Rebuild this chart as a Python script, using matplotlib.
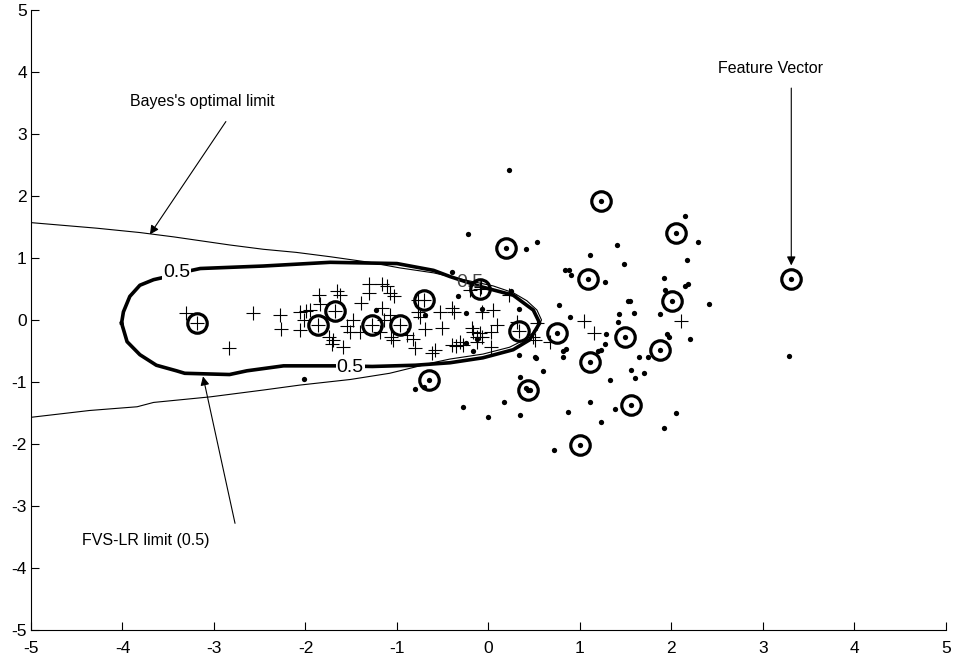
import numpy as np
import matplotlib.pyplot as plt

plt.rcParams['font.family'] = ['Liberation Sans', 'DejaVu Sans']
plt.rcParams['axes.unicode_minus'] = False

# class 1 samples (+)
plus_x = [-3.31, -3.19, -2.57, -2.28, -2.27, -2.06, -2.06, -1.95, -2.84, -1.85,
          -1.31, -1.31, -1.16, -1.11, -1.08, -1.03, -1.66, -1.62, -1.84, -1.99,
          -2.02, -1.39, -1.48, -1.55, -1.74, -1.70, -1.71, -1.59, -1.51, -1.40,
          -1.16, -1.14, -1.08, -1.19, -1.06, -1.04, -0.89, -0.82, -0.80, -0.77,
          -0.77, -0.69, -0.62, -0.58, -0.53, -0.51, -0.40, -0.38, -0.40, -0.35,
          -0.28, -0.17, -0.13, -0.07, -0.13, -0.07, 0.05, 0.03, 0.09, -0.08,
          0.22, 0.53, 0.49, 1.04, 1.15, 2.11, 0.31, 0.67, -0.09, 0.03,
          -0.31, -0.75, -0.18, -0.20, 0.51, -1.86, -1.68, -1.27, -0.97, -0.70,
          -0.09, 0.33]
plus_y = [0.12, -0.05, 0.12, 0.08, -0.15, 0.13, -0.16, 0.16, -0.46, 0.40,
          0.58, 0.43, 0.58, 0.54, 0.43, 0.38, 0.46, 0.40, 0.26, 0.15,
          0.00, 0.27, 0.00, -0.10, -0.27, -0.32, -0.39, -0.44, -0.20, -0.20,
          0.19, 0.00, 0.08, -0.19, -0.27, -0.32, -0.24, -0.31, -0.46, 0.32,
          0.13, -0.15, -0.54, -0.48, 0.13, -0.13, 0.19, 0.13, -0.40, -0.42,
          -0.40, -0.19, -0.27, -0.27, -0.35, 0.13, 0.16, -0.43, -0.08, 0.53,
          0.40, -0.05, -0.27, -0.02, -0.21, -0.01, -0.03, -0.35, -0.21, -0.20,
          -0.35, 0.05, -0.13, 0.48, -0.32, -0.08, 0.15, -0.08, -0.08, 0.32,
          0.50, -0.18]

# class 2 samples (dots)
dot_x = [0.22, 2.15, 2.29, -0.22, 0.41, 0.53, 1.40, 1.11, 1.48, 2.17,
         0.84, 0.88, 0.90, 1.27, 1.92, 2.15, 2.18, 1.93, 1.53, 1.55,
         0.77, 1.59, 1.43, 1.87, 0.89, 1.42, 1.29, 1.95, 1.97, 2.20,
         1.27, 0.33, 0.85, 0.82, 0.81, 1.20, 1.23, 1.65, 1.74, 0.33,
         0.52, 0.60, 1.56, 1.60, 1.70, 1.33, 0.35, 0.41, 0.45, -0.28,
         0.17, -0.01, 0.34, 0.87, 1.11, 1.23, 1.38, 2.05, 1.92, 0.72,
         2.41, 3.28, -0.40, -0.33, -0.24, -0.07, -0.25, -0.17, -0.13, -1.23,
         -0.69, 0.25, -2.02, -0.80, -0.70, 0.51,
         0.75, -0.65, 0.43, 0.19, 1.23, 1.09, 1.11, 1.49, 2.01, 2.05,
         1.87, 1.56, 1.00, 3.31]
dot_y = [2.42, 1.68, 1.26, 1.39, 1.14, 1.25, 1.21, 1.04, 0.91, 0.96,
         0.80, 0.80, 0.73, 0.61, 0.68, 0.55, 0.58, 0.48, 0.31, 0.31,
         0.24, 0.12, 0.09, 0.09, 0.04, -0.03, -0.23, -0.23, -0.28, -0.30,
         -0.38, 0.18, -0.47, -0.50, -0.59, -0.50, -0.48, -0.60, -0.60, -0.56,
         -0.61, -0.83, -0.80, -0.94, -0.85, -0.97, -0.92, -1.10, -1.13, -1.41,
         -1.33, -1.56, -1.53, -1.48, -1.33, -1.64, -1.44, -1.50, -1.75, -2.09,
         0.26, -0.58, 0.77, 0.38, 0.12, 0.17, -0.37, -0.50, -0.31, 0.16,
         0.08, 0.46, -0.95, -1.11, -1.08, -0.60,
         -0.21, -0.97, -1.13, 1.16, 1.92, 0.66, -0.68, -0.27, 0.31, 1.40,
         -0.48, -1.37, -2.02, 0.66]

# circled feature vectors
sv_x = [-3.19, -1.86, -1.68, -1.27, -0.97, -0.70, -0.09, 0.33, 0.75, -0.65,
        0.43, 0.19, 1.23, 1.09, 1.11, 1.49, 2.01, 2.05, 1.87, 1.56,
        1.00, 3.31]
sv_y = [-0.05, -0.08, 0.15, -0.08, -0.08, 0.32, 0.50, -0.18, -0.21, -0.97,
        -1.13, 1.16, 1.92, 0.66, -0.68, -0.27, 0.31, 1.40, -0.48, -1.37,
        -2.02, 0.66]

# Bayes optimal boundary
bayes_x = [-5.0, -4.28, -3.81, -3.44, -2.83, -2.46, -2.10, -1.73, -1.30, -0.97,
           -0.60, -0.24, 0.05, 0.27, 0.42, 0.53, 0.58, 0.53, 0.38, 0.23,
           -0.06, -0.42, -0.61, -1.08, -1.51, -2.06, -2.46, -3.04, -3.66, -3.84,
           -4.36, -5.0]
bayes_y = [1.57, 1.48, 1.41, 1.34, 1.21, 1.14, 1.09, 1.02, 0.93, 0.84,
           0.76, 0.64, 0.55, 0.44, 0.31, 0.16, 0.0, -0.16, -0.33, -0.44,
           -0.55, -0.63, -0.69, -0.86, -0.96, -1.05, -1.13, -1.24, -1.33, -1.40,
           -1.46, -1.57]

# FVS-LR 0.5 contour
fvs_x = [-4.01, -3.99, -3.92, -3.81, -3.66, -3.57, -3.40, -3.15, -2.46, -1.73,
         -1.00, -0.60, -0.42, -0.09, 0.27, 0.49, 0.56, 0.45, 0.27, -0.06,
         -0.42, -0.80, -1.27, -1.68, -2.24, -2.64, -2.83, -3.32, -3.41, -3.63,
         -3.81, -3.95, -4.01]
fvs_y = [-0.05, 0.13, 0.38, 0.56, 0.65, 0.68, 0.75, 0.83, 0.87, 0.93,
         0.91, 0.80, 0.70, 0.54, 0.40, 0.16, -0.05, -0.32, -0.48, -0.61,
         -0.69, -0.73, -0.75, -0.74, -0.74, -0.82, -0.88, -0.86, -0.82, -0.73,
         -0.56, -0.35, -0.05]

fvs_label_x = [-3.41, -1.51, -0.20]
fvs_label_y = [0.77, -0.76, 0.60]

fig = plt.figure(figsize=(9.54, 6.6), dpi=100)
ax = fig.add_axes([0.0325, 0.0455, 0.959, 0.9394])

ax.plot(fvs_x, fvs_y, color='k', lw=2.6, zorder=2)
for i in range(2):
    ax.text(fvs_label_x[i], fvs_label_y[i], '0.5', fontsize=14, ha='center', va='center',
            bbox=dict(facecolor='white', edgecolor='none', pad=0.5), zorder=3)
ax.text(fvs_label_x[2], fvs_label_y[2], '0.5', fontsize=14, ha='center', va='center',
        color='#444444', zorder=3)
ax.plot(bayes_x, bayes_y, color='k', lw=0.8, zorder=4)

ax.plot(plus_x, plus_y, '+', color='k', ms=9.5, mew=0.8, zorder=5)
ax.plot(dot_x, dot_y, 'o', color='k', ms=3.8, mew=0, zorder=5)
ax.plot(sv_x, sv_y, 'o', mfc='none', mec='k', ms=14, mew=2.3, zorder=6)

arrow = dict(arrowstyle='-|>', color='k', lw=0.8, mutation_scale=13,
             shrinkA=0, shrinkB=0)
ax.annotate('', xy=(-3.70, 1.38), xytext=(-2.87, 3.20), arrowprops=arrow)
ax.text(-3.13, 3.53, "Bayes's optimal limit", fontsize=11.5, ha='center', va='center')
ax.annotate('', xy=(-3.12, -0.91), xytext=(-2.77, -3.28), arrowprops=arrow)
ax.text(-3.75, -3.55, 'FVS-LR limit (0.5)', fontsize=11.5, ha='center', va='center')
ax.annotate('', xy=(3.31, 0.88), xytext=(3.31, 3.74), arrowprops=arrow)
ax.text(3.08, 4.05, 'Feature Vector', fontsize=11.5, ha='center', va='center')

ax.set_xlim(-5, 5)
ax.set_ylim(-5, 5)
ax.set_xticks(np.arange(-5, 6))
ax.set_yticks(np.arange(-5, 6))
ax.spines['top'].set_visible(False)
ax.spines['right'].set_visible(False)
ax.tick_params(direction='in', length=6, width=0.8, labelsize=12.5)
ax.tick_params(axis='x', pad=8)
ax.tick_params(axis='y', pad=3)

fig.savefig('out.png', dpi=100)
